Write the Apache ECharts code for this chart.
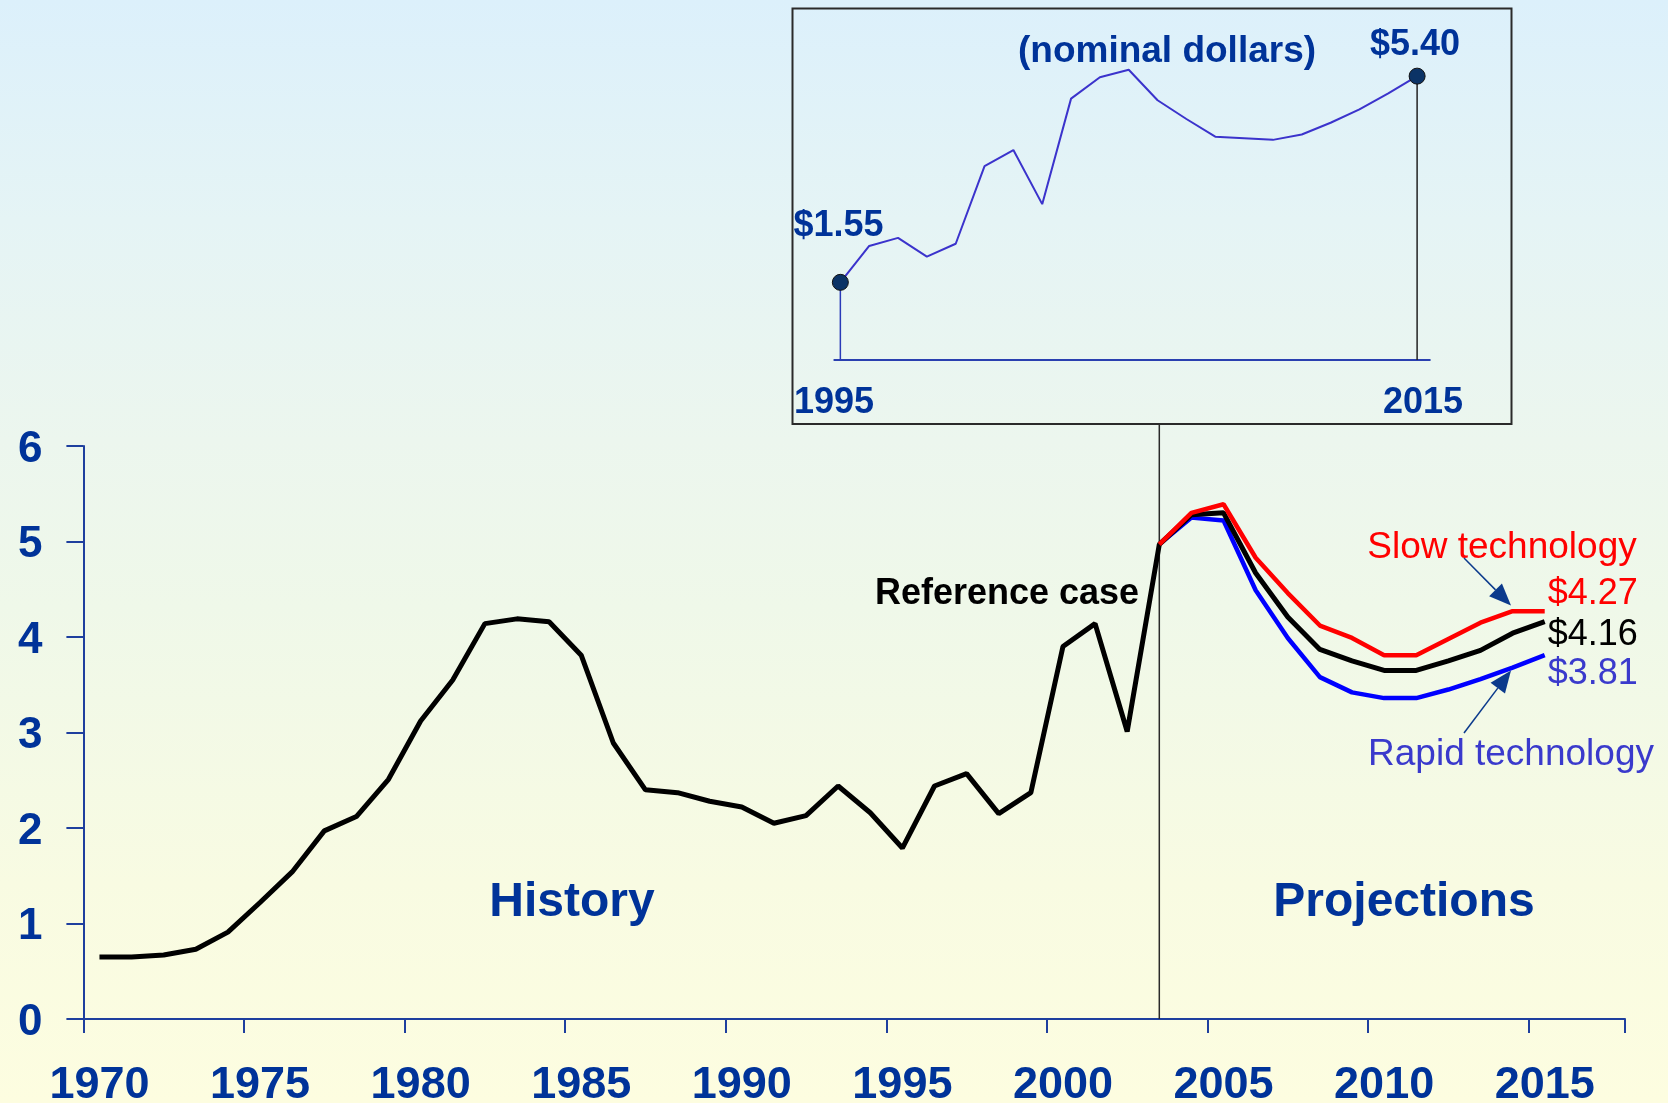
<!DOCTYPE html>
<html><head><meta charset="utf-8">
<script src="https://cdn.jsdelivr.net/npm/echarts@6/dist/echarts.min.js"></script>
<style>html,body{margin:0;padding:0;}#c{width:1668px;height:1103px;}</style>
</head><body><div id="c"></div>
<script>
// ---- data ----
const years = ['1970','1971','1972','1973','1974','1975','1976','1977','1978','1979',
  '1980','1981','1982','1983','1984','1985','1986','1987','1988','1989',
  '1990','1991','1992','1993','1994','1995','1996','1997','1998','1999',
  '2000','2001','2002','2003','2004','2005','2006','2007','2008','2009',
  '2010','2011','2012','2013','2014','2015','2016','2017'];
const referenceCase = [0.65,0.65,0.67,0.73,0.91,1.22,1.54,1.97,2.12,2.51,
  3.12,3.55,4.14,4.19,4.16,3.81,2.89,2.40,2.37,2.28,
  2.22,2.05,2.13,2.44,2.16,1.79,2.44,2.57,2.15,2.37,
  3.90,4.14,3.01,4.97,5.28,5.30,4.67,4.21,3.87,3.75,
  3.65,3.65,3.75,3.86,4.04,4.16];
const projYears = ['2003','2004','2005','2006','2007','2008','2009','2010','2011','2012','2013','2014','2015'];
const slowTech  = [4.97,5.30,5.39,4.83,4.46,4.12,3.99,3.81,3.81,3.98,4.15,4.27,4.27];
const rapidTech = [4.97,5.25,5.22,4.49,3.99,3.58,3.42,3.36,3.36,3.45,3.56,3.68,3.81];
const nominalYears = [1995,1996,1997,1998,1999,2000,2001,2002,2003,2004,2005,2006,2007,2008,2009,2010,2011,2012,2013,2014,2015];
const nominalPrice = [1.55,2.23,2.38,2.03,2.27,3.72,4.02,3.01,4.98,5.38,5.52,4.95,4.60,4.27,4.24,4.21,4.31,4.53,4.78,5.08,5.40];
const yTicks = [0,1,2,3,4,5,6];
const dividerYear = '2003';

// ---- build ----
const FONT = '"Liberation Sans", Arial, sans-serif';
const BLUE = '#003399';
const AXIS = '#1e3f9e';
const pad = arr => years.map(y => { const i = projYears.indexOf(y); return i >= 0 ? arr[i] : null; });
const slowData = pad(slowTech), rapidData = pad(rapidTech);
const insetYMin = 0.1, insetYMax = 6.0;
const money = v => '$' + v.toFixed(2);

function endLbl(color, dy) {
  return { show: true, formatter: p => money(p.value), color: color, fontFamily: FONT,
           fontSize: 36, distance: 3, offset: [0, dy] };
}
function arrow(x1, y1, x2, y2, color) {
  const dx = x2 - x1, dy = y2 - y1, L = Math.hypot(dx, dy), ux = dx / L, uy = dy / L;
  const hl = 22, hw = 9;
  const bx = x2 - ux * hl, by = y2 - uy * hl;
  return [
    { type: 'line', shape: { x1: x1, y1: y1, x2: bx, y2: by }, style: { stroke: color, lineWidth: 1.5 }, z: 10 },
    { type: 'polygon', shape: { points: [[x2, y2], [bx - uy * hw, by + ux * hw], [bx + uy * hw, by - ux * hw]] },
      style: { fill: color }, z: 10 }
  ];
}
function txt(x, y, text, font, color) {
  return { type: 'text', x: x, y: y + 3, z: 10,
    style: { text: text, font: font, fill: color, align: 'center', verticalAlign: 'middle',
             textAlign: 'center', textVerticalAlign: 'middle' } };
}

const graphics = [
  { type: 'rect', shape: { x: 792.5, y: 8.5, width: 719, height: 415.5 },
    style: { fill: 'none', stroke: '#2a2a2a', lineWidth: 2 }, z: 5 },
  txt(1167, 49, '(nominal dollars)', 'bold 37px ' + FONT, BLUE),
  txt(838.5, 223, money(nominalPrice[0]), 'bold 36px ' + FONT, BLUE),
  txt(1415, 42, money(nominalPrice[nominalPrice.length - 1]), 'bold 36px ' + FONT, BLUE),
  txt(834, 400, String(nominalYears[0]), 'bold 36px ' + FONT, BLUE),
  txt(1423, 400, String(nominalYears[nominalYears.length - 1]), 'bold 36px ' + FONT, BLUE),
  txt(1007, 591, 'Reference case', 'bold 36px ' + FONT, '#000000'),
  txt(572, 900, 'History', 'bold 48px ' + FONT, BLUE),
  txt(1404, 900, 'Projections', 'bold 48px ' + FONT, BLUE),
  txt(1502, 545, 'Slow technology', '37px ' + FONT, '#ff0000'),
  txt(1511, 752, 'Rapid technology', '37px ' + FONT, '#3a3acc')
].concat(arrow(1464, 558, 1511, 605.5, '#0b3a8c'), arrow(1464, 733, 1511, 670.5, '#0b3a8c'));

const option = {
  animation: false,
  backgroundColor: { type: 'linear', x: 0, y: 0, x2: 0, y2: 1, colorStops: [
    { offset: 0, color: '#dcf0fb' }, { offset: 0.2, color: '#e5f4f5' }, { offset: 0.4, color: '#ecf6ee' },
    { offset: 0.55, color: '#eff8e9' }, { offset: 0.8, color: '#f8fbe2' }, { offset: 1, color: '#fdfde0' }] },
  grid: [
    { left: 83.4, right: 43, top: 446, bottom: 84, containLabel: false, outerBoundsMode: 'none' },
    { left: 834.3, right: 238.2, top: 44, height: 316, containLabel: false, outerBoundsMode: 'none' }
  ],
  xAxis: [
    { type: 'category', gridIndex: 0, data: years, boundaryGap: true,
      axisLine: { lineStyle: { color: AXIS, width: 2 } },
      axisTick: { show: true, interval: idx => idx % 5 === 0, length: 14, lineStyle: { color: AXIS, width: 2 } },
      axisLabel: { interval: 4, margin: 44, color: BLUE, fontWeight: 'bold', fontSize: 45, fontFamily: FONT },
      splitLine: { show: false } },
    { type: 'value', gridIndex: 1, min: 1994.79, max: 2015.44,
      axisLine: { onZero: false, lineStyle: { color: '#2a40b0', width: 2 } },
      axisTick: { show: false }, axisLabel: { show: false }, splitLine: { show: false } }
  ],
  yAxis: [
    { type: 'value', gridIndex: 0, min: yTicks[0], max: yTicks[yTicks.length - 1], interval: 1,
      axisLine: { show: true, lineStyle: { color: AXIS, width: 2 } },
      axisTick: { show: true, length: 17, lineStyle: { color: AXIS, width: 2 } },
      axisLabel: { margin: 41, formatter: '{v|{value}}',
                   rich: { v: { color: BLUE, fontWeight: 'bold', fontSize: 44, fontFamily: FONT, padding: [7, 0, 0, 0] } } },
      splitLine: { show: false } },
    { type: 'value', gridIndex: 1, min: insetYMin, max: insetYMax, show: false, splitLine: { show: false } }
  ],
  series: [
    { type: 'line', name: 'Rapid technology', xAxisIndex: 0, yAxisIndex: 0, data: rapidData,
      symbol: 'none', lineStyle: { color: '#0000ff', width: 4.5 }, itemStyle: { color: '#0000ff' },
      endLabel: endLbl('#3a3acc', 19), z: 3 },
    { type: 'line', name: 'Reference case', xAxisIndex: 0, yAxisIndex: 0, data: referenceCase,
      symbol: 'none', lineStyle: { color: '#000000', width: 5 }, itemStyle: { color: '#000' },
      endLabel: endLbl('#000000', 13), z: 4 },
    { type: 'line', name: 'Slow technology', xAxisIndex: 0, yAxisIndex: 0, data: slowData,
      symbol: 'none', lineStyle: { color: '#ff0000', width: 4.5 }, itemStyle: { color: '#ff0000' },
      endLabel: endLbl('#ff0000', -17), z: 5 },
    { type: 'line', xAxisIndex: 1, yAxisIndex: 1,
      data: [[nominalYears[0], nominalPrice[0]], [nominalYears[0], insetYMin]],
      symbol: 'none', lineStyle: { color: '#2a3ab8', width: 1.5 }, z: 3 },
    { type: 'line', xAxisIndex: 1, yAxisIndex: 1,
      data: [[nominalYears[nominalYears.length - 1], nominalPrice[nominalPrice.length - 1]],
             [nominalYears[nominalYears.length - 1], insetYMin]],
      symbol: 'none', lineStyle: { color: '#222222', width: 1.5 }, z: 3 },
    { type: 'line', name: 'Nominal', xAxisIndex: 1, yAxisIndex: 1,
      data: nominalYears.map((y, i) => [y, nominalPrice[i]]),
      symbol: 'none', lineStyle: { color: '#3b33cc', width: 2 }, z: 4 },
    { type: 'scatter', xAxisIndex: 1, yAxisIndex: 1,
      data: [[nominalYears[0], nominalPrice[0]],
             [nominalYears[nominalYears.length - 1], nominalPrice[nominalPrice.length - 1]]],
      symbol: 'circle', symbolSize: 16,
      itemStyle: { color: '#0b3366', borderColor: '#111', borderWidth: 1, opacity: 1 }, z: 6 }
  ],
  graphic: graphics
};

const chart = echarts.init(document.getElementById('c'), null, { renderer: 'canvas' });
chart.setOption(option);
const dx = chart.convertToPixel({ xAxisIndex: 0 }, dividerYear);
const dy0 = chart.convertToPixel({ yAxisIndex: 0 }, 0);
option.graphic = graphics.concat([{ type: 'line', shape: { x1: dx, y1: 424, x2: dx, y2: dy0 },
  style: { stroke: '#2a2a2a', lineWidth: 1.5 }, z: 2 }]);
chart.setOption(option, true);
</script></body></html>
